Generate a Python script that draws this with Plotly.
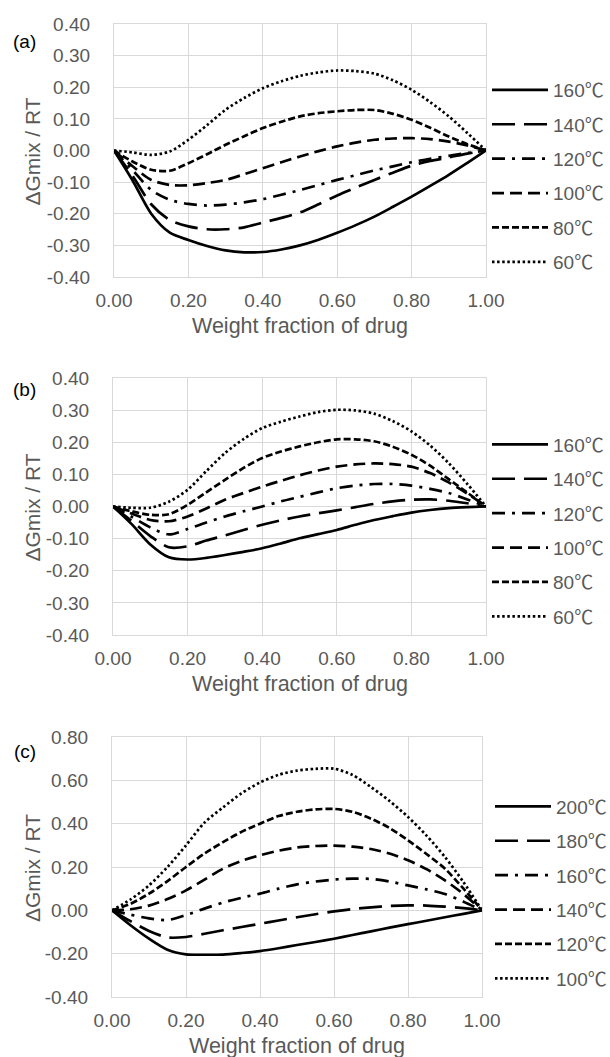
import plotly.graph_objects as go

# Weight fraction of drug (common sampling grid for all curves)
phi = [0, 0.05, 0.1, 0.15, 0.2, 0.25, 0.3, 0.35, 0.4, 0.45, 0.5,
       0.55, 0.6, 0.65, 0.7, 0.75, 0.8, 0.85, 0.9, 0.95, 1.0]

# Panel (a): dGmix/RT
a_labels = ["160℃", "140℃", "120℃", "100℃", "80℃", "60℃"]
a_160 = [0, -0.095, -0.200, -0.260, -0.283, -0.302, -0.316, -0.322, -0.321, -0.313, -0.300,
         -0.282, -0.260, -0.236, -0.209, -0.178, -0.146, -0.112, -0.077, -0.039, 0]
a_140 = [0, -0.080, -0.170, -0.220, -0.240, -0.249, -0.249, -0.243, -0.228, -0.213, -0.196,
         -0.170, -0.142, -0.117, -0.093, -0.070, -0.048, -0.033, -0.022, -0.010, 0]
a_120 = [0, -0.062, -0.125, -0.156, -0.169, -0.174, -0.171, -0.164, -0.154, -0.140, -0.125,
         -0.109, -0.093, -0.078, -0.063, -0.050, -0.037, -0.026, -0.017, -0.008, 0]
a_100 = [0, -0.050, -0.093, -0.109, -0.110, -0.103, -0.093, -0.075, -0.056, -0.037, -0.019,
         -0.002, 0.013, 0.025, 0.034, 0.038, 0.039, 0.036, 0.028, 0.016, 0]
a_80 = [0, -0.035, -0.061, -0.064, -0.040, -0.012, 0.018, 0.045, 0.071, 0.091, 0.108,
        0.118, 0.124, 0.128, 0.128, 0.116, 0.097, 0.072, 0.044, 0.020, 0]
a_60 = [0, -0.006, -0.014, -0.003, 0.034, 0.080, 0.129, 0.166, 0.197, 0.219, 0.236,
        0.247, 0.253, 0.251, 0.243, 0.222, 0.192, 0.153, 0.108, 0.055, 0]

# Panel (b)
b_labels = ["160℃", "140℃", "120℃", "100℃", "80℃", "60℃"]
b_160 = [0, -0.055, -0.118, -0.158, -0.165, -0.160, -0.151, -0.141, -0.130, -0.115, -0.099,
         -0.086, -0.073, -0.057, -0.042, -0.030, -0.019, -0.011, -0.005, -0.002, 0]
b_140 = [0, -0.045, -0.092, -0.127, -0.124, -0.106, -0.090, -0.073, -0.057, -0.043, -0.031,
         -0.021, -0.012, -0.002, 0.008, 0.016, 0.021, 0.022, 0.018, 0.010, 0]
b_120 = [0, -0.032, -0.065, -0.087, -0.070, -0.050, -0.031, -0.015, 0.000, 0.016, 0.030,
         0.044, 0.057, 0.065, 0.070, 0.070, 0.065, 0.055, 0.042, 0.022, 0]
b_100 = [0, -0.022, -0.042, -0.046, -0.031, -0.006, 0.021, 0.042, 0.062, 0.080, 0.097,
         0.112, 0.124, 0.131, 0.134, 0.132, 0.124, 0.104, 0.075, 0.040, 0]
b_80 = [0, -0.015, -0.026, -0.024, 0.005, 0.044, 0.083, 0.120, 0.151, 0.171, 0.187,
        0.200, 0.209, 0.209, 0.203, 0.186, 0.161, 0.127, 0.085, 0.043, 0]
b_60 = [0, -0.004, -0.004, 0.015, 0.052, 0.110, 0.166, 0.210, 0.244, 0.264, 0.280,
        0.294, 0.301, 0.299, 0.289, 0.266, 0.234, 0.190, 0.135, 0.070, 0]

# Panel (c)
c_labels = ["200℃", "180℃", "160℃", "140℃", "120℃", "100℃"]
c_200 = [0, -0.069, -0.131, -0.182, -0.203, -0.205, -0.204, -0.197, -0.188, -0.175, -0.160,
         -0.146, -0.131, -0.114, -0.097, -0.080, -0.064, -0.048, -0.032, -0.016, 0]
c_180 = [0, -0.050, -0.095, -0.125, -0.123, -0.108, -0.092, -0.077, -0.062, -0.047, -0.032,
         -0.018, -0.005, 0.006, 0.014, 0.020, 0.023, 0.022, 0.017, 0.010, 0]
c_160 = [0, -0.020, -0.037, -0.045, -0.022, 0.008, 0.036, 0.058, 0.077, 0.100, 0.120,
         0.133, 0.142, 0.146, 0.145, 0.133, 0.115, 0.097, 0.075, 0.040, 0]
c_140 = [0, 0.005, 0.022, 0.052, 0.092, 0.142, 0.192, 0.228, 0.254, 0.275, 0.290,
         0.297, 0.299, 0.294, 0.283, 0.262, 0.231, 0.190, 0.138, 0.075, 0]
c_120 = [0, 0.030, 0.077, 0.135, 0.200, 0.262, 0.315, 0.362, 0.400, 0.435, 0.455,
         0.466, 0.468, 0.455, 0.423, 0.380, 0.323, 0.260, 0.192, 0.100, 0]
c_100 = [0, 0.050, 0.115, 0.200, 0.300, 0.405, 0.475, 0.540, 0.590, 0.625, 0.645,
         0.653, 0.654, 0.625, 0.569, 0.505, 0.431, 0.345, 0.246, 0.130, 0]

x_ticks = [0, 0.2, 0.4, 0.6, 0.8, 1.0]
x_ticktext = ["0.00", "0.20", "0.40", "0.60", "0.80", "1.00"]
y_ticks_ab = [-0.4, -0.3, -0.2, -0.1, 0.0, 0.1, 0.2, 0.3, 0.4]
y_ticktext_ab = ["-0.40", "-0.30", "-0.20", "-0.10", "0.00", "0.10", "0.20", "0.30", "0.40"]
y_ticks_c = [-0.4, -0.2, 0.0, 0.2, 0.4, 0.6, 0.8]
y_ticktext_c = ["-0.40", "-0.20", "0.00", "0.20", "0.40", "0.60", "0.80"]

W, H = 610, 1057
FONT = "Liberation Sans, Arial, sans-serif"
CJK = "Noto Sans CJK JP"
GREY = "#595959"
GRID = "#d9d9d9"

# line styles, from the hottest (solid) to the coolest (dotted)
styles = [
    dict(dash="solid", width=2.7),
    dict(dash="23px,9px", width=2.7),
    dict(dash="13px,7px,3px,7px", width=2.7),
    dict(dash="12px,6px", width=2.7),
    dict(dash="7px,3px", width=2.7),
    dict(dash="2.5px,2.6px", width=2.7),
]


def px_x(p):
    return p / W


def px_y(p):
    return 1 - p / H


def legend_name(label):
    # the degree-Celsius sign is set in the CJK face, as a full-width glyph
    return label.replace("℃", f"<span style=\"font-family:{CJK}\">℃</span>")


fig = go.Figure()

panels = [
    ("x", "y", "legend", a_labels, [a_160, a_140, a_120, a_100, a_80, a_60]),
    ("x2", "y2", "legend2", b_labels, [b_160, b_140, b_120, b_100, b_80, b_60]),
    ("x3", "y3", "legend3", c_labels, [c_200, c_180, c_160, c_140, c_120, c_100]),
]

for k, (xa, ya, lg, labels, series) in enumerate(panels):
    for i, (name, vals) in enumerate(zip(labels, series)):
        fig.add_trace(go.Scatter(
            x=phi, y=vals, name=legend_name(name), mode="lines",
            line=dict(color="black", shape="spline", smoothing=0.8, **styles[i]),
            xaxis=xa, yaxis=ya, legend=lg, legendgroup=f"{lg}_{i}",
            showlegend=True, hoverinfo="skip",
        ))

# plot areas in pixels: (left, right, top, bottom)
boxes = [(114, 486, 24, 277), (113, 486, 378, 635), (112, 482, 737, 997)]

axis_common = dict(
    showgrid=True, gridcolor=GRID, gridwidth=1.3,
    showline=True, linecolor=GRID, linewidth=1.3, mirror=True,
    zeroline=False, ticks="", automargin=False,
    tickfont=dict(family=FONT, size=19, color=GREY),
    fixedrange=True,
)

layout = dict(
    width=W, height=H,
    margin=dict(l=0, r=0, t=0, b=0, autoexpand=False),
    paper_bgcolor="white", plot_bgcolor="white",
    font=dict(family=FONT, color=GREY),
    showlegend=True,
)

suffixes = ["", "2", "3"]
for k, (l, r, t, b) in enumerate(boxes):
    s = suffixes[k]
    yt = y_ticks_c if k == 2 else y_ticks_ab
    ytt = y_ticktext_c if k == 2 else y_ticktext_ab
    yr = [-0.4, 0.8] if k == 2 else [-0.4, 0.4]
    layout["xaxis" + s] = dict(
        axis_common, domain=[px_x(l), px_x(r)], range=[0, 1],
        tickvals=x_ticks, ticktext=x_ticktext, anchor="y" + s,
        ticklabelstandoff=6,
    )
    layout["yaxis" + s] = dict(
        axis_common, domain=[px_y(b), px_y(t)], range=yr,
        tickvals=yt, ticktext=ytt, anchor="x" + s,
        ticklabelstandoff=19,
    )

legend_pos = [(487, 71), (487, 425.5), (490, 787.5)]
for k, (lx, ly) in enumerate(legend_pos):
    name = "legend" if k == 0 else f"legend{k + 1}"
    layout[name] = dict(
        x=px_x(lx), y=px_y(ly), xanchor="left", yanchor="top",
        xref="container", yref="container",
        font=dict(family=FONT, size=19, color=GREY),
        bgcolor="rgba(0,0,0,0)", itemwidth=56, tracegroupgap=6.7,
        itemclick=False, itemdoubleclick=False,
    )

fig.update_layout(**layout)

annotations = []
panel_tags = ["(a)", "(b)", "(c)"]
tag_y = [42, 389, 751]
xtitle_y = [326, 684, 1046]
for k, (l, r, t, b) in enumerate(boxes):
    annotations.append(dict(
        text=panel_tags[k], x=px_x(25), y=px_y(tag_y[k]), xref="paper", yref="paper",
        xanchor="center", yanchor="middle", showarrow=False,
        font=dict(family=FONT, size=19, color="black"),
    ))
    annotations.append(dict(
        text="Weight fraction of drug", x=px_x((l + r) / 2), y=px_y(xtitle_y[k]),
        xref="paper", yref="paper", xanchor="center", yanchor="middle", showarrow=False,
        font=dict(family=FONT, size=21.5, color=GREY),
    ))
    annotations.append(dict(
        text="ΔGmix / RT", x=px_x(32), y=px_y((t + b) / 2 + 1), xref="paper", yref="paper",
        xanchor="center", yanchor="middle", showarrow=False, textangle=-90,
        font=dict(family=FONT, size=21, color=GREY),
    ))
fig.update_layout(annotations=annotations)

fig.write_html("out.html")
